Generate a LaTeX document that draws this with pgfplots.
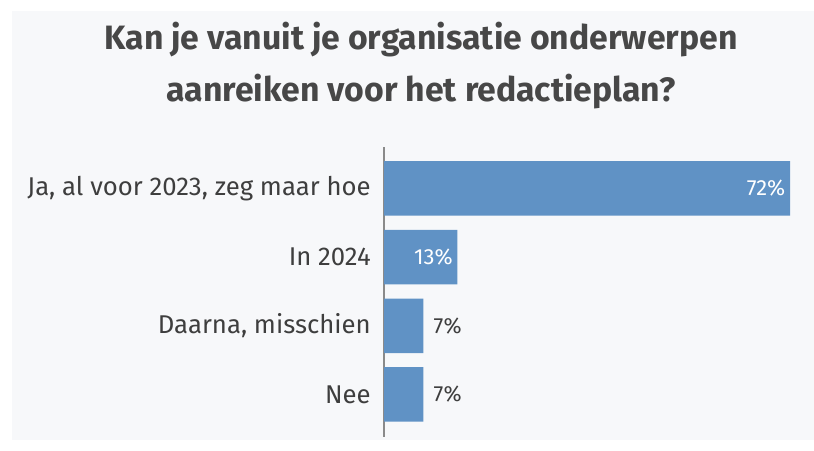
\documentclass[border=0pt]{standalone}
\usepackage{pgfplots}
\pgfplotsset{compat=1.18}
\usepackage{fontspec}
\setmainfont{Fira Sans}
\definecolor{bg}{HTML}{F7F8FA}
\definecolor{barblue}{HTML}{6092C5}
\definecolor{txt}{HTML}{3E3E3E}
\definecolor{ttl}{HTML}{474747}
\definecolor{axgray}{HTML}{8A8A8A}
\begin{document}
\begin{tikzpicture}[x=1bp,y=1bp]
\path[use as bounding box] (0,0) rectangle (814,451);
\fill[bg] (12,11) rectangle (814,440);
\node[font=\bfseries\fontsize{33.9}{40}\selectfont, text=ttl, anchor=base, inner sep=0pt] at (421,401) {Kan je vanuit je organisatie onderwerpen};
\node[font=\bfseries\fontsize{33.9}{40}\selectfont, text=ttl, anchor=base, inner sep=0pt] at (421,349.3) {aanreiken voor het redactieplan?};
\begin{axis}[
  at={(384bp,14bp)}, anchor=south west,
  scale only axis, width=406bp, height=289.7bp,
  xmin=0, xmax=72, ymin=-0.6, ymax=3.62,
  y dir=reverse,
  xbar, bar width=54.5bp, bar shift=0pt,
  axis x line=none, axis y line=left,
  y axis line style={-, draw=axgray, line width=1.5bp},
  xtick=\empty,
  ytick={0,1,2,3},
  yticklabels={{Ja, al voor 2023, zeg maar hoe},{In 2024},{Daarna, misschien},{Nee}},
  ytick style={draw=none},
  yticklabel style={font=\fontsize{25.8}{30}\selectfont, text=txt, inner sep=0pt, xshift=-11bp},
  /pgf/number format/assume math mode=true,
  clip=false,
]
\addplot[fill=barblue, draw=none] coordinates {(72,0) (13,1) (7,2) (7,3)};
\addplot[draw=none, fill=none,
  nodes near coords={\pgfmathprintnumber{\pgfplotspointmeta}\%},
  nodes near coords style={anchor=east, text=white, inner sep=0pt, xshift=-4.5bp, font=\fontsize{22}{26}\selectfont}]
  coordinates {(72,0) (13,1)};
\addplot[draw=none, fill=none,
  nodes near coords={\pgfmathprintnumber{\pgfplotspointmeta}\%},
  nodes near coords style={anchor=west, text=txt, inner sep=0pt, xshift=10bp, font=\fontsize{22}{26}\selectfont}]
  coordinates {(7,2) (7,3)};
\end{axis}
\end{tikzpicture}
\end{document}
